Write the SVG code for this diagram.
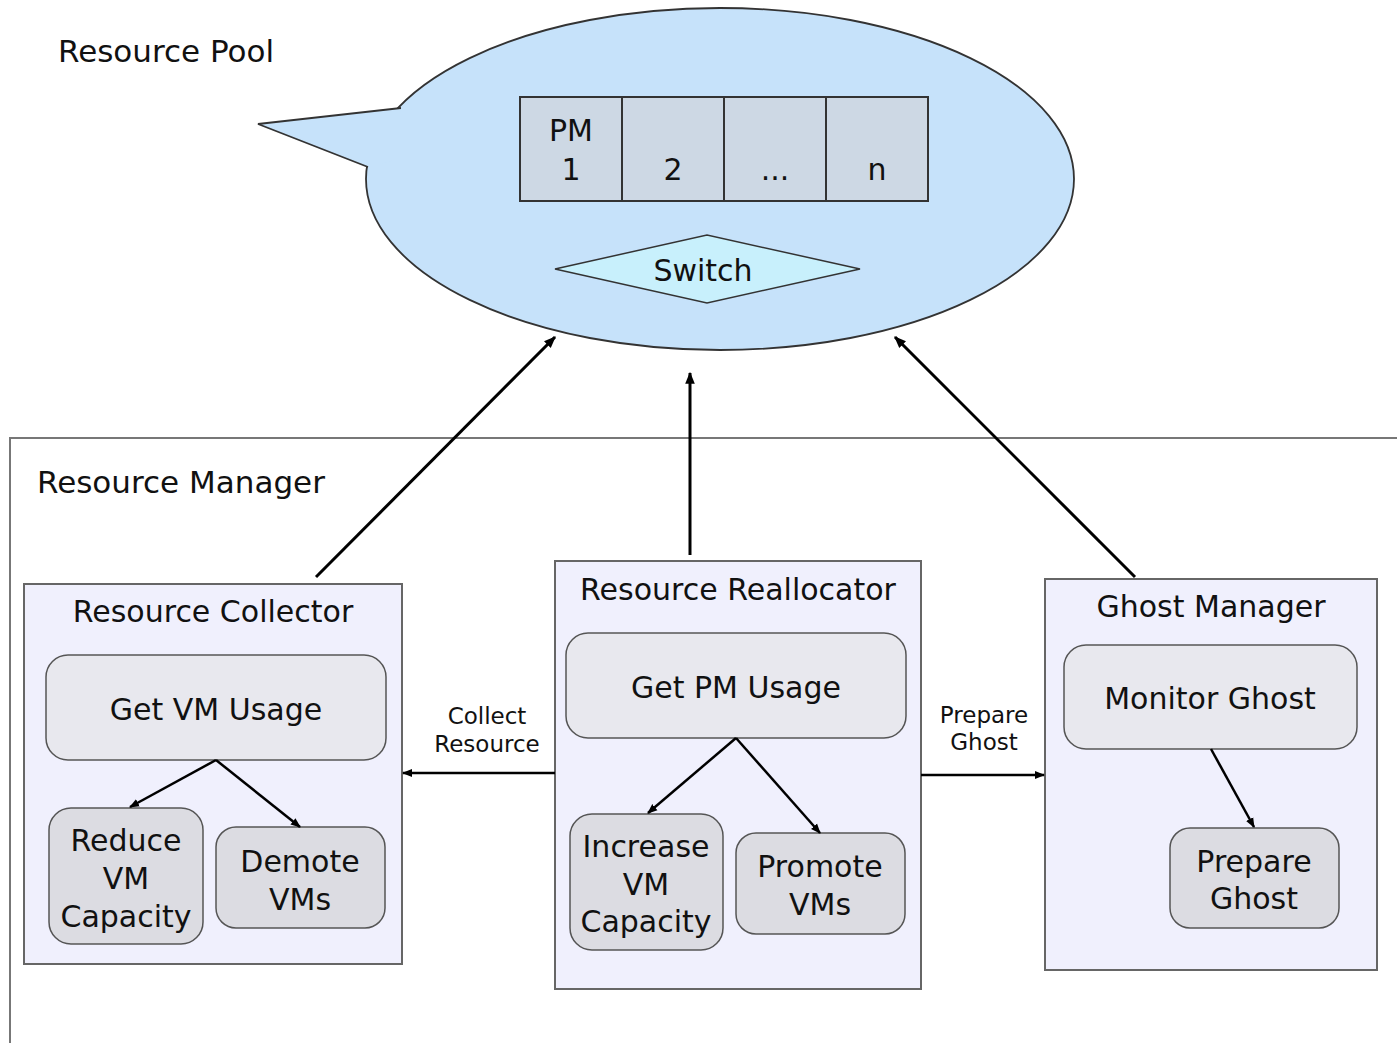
<svg xmlns="http://www.w3.org/2000/svg" width="1397" height="1043" viewBox="0 0 1397 1043">
<style>
text{font-family:"DejaVu Sans","Liberation Sans",sans-serif;fill:#111;text-anchor:middle}
.t30{font-size:30px}
.t31{font-size:31px;text-anchor:start}
.t24{font-size:23px}
.frame{fill:#f0f0fd;stroke:#666;stroke-width:2}
.sub{fill:#e8e8ee;stroke:#555;stroke-width:1.5}
.leaf{fill:#dcdce2;stroke:#555;stroke-width:1.5}
.pm{fill:#cdd8e4;stroke:#333;stroke-width:2}
.ar{stroke:#000;fill:none;stroke-width:3;marker-end:url(#ah)}
.ar2{stroke:#000;fill:none;stroke-width:2.5;marker-end:url(#ah)}
</style>
<defs>
<marker id="ah" viewBox="0 0 10 10" refX="9" refY="5" markerWidth="4" markerHeight="4" orient="auto" markerUnits="strokeWidth">
<path d="M0,1 L10,5 L0,9 z" fill="#000"/>
</marker>
</defs>
<rect width="1397" height="1043" fill="#fff"/>
<g id="resource-pool">
<ellipse cx="720" cy="179" rx="354" ry="171" fill="#c6e2fa" stroke="#333" stroke-width="1.8"/>
<path d="M401,108 L258,124 L368,167 L395,160 L420,110 Z" fill="#c6e2fa"/>
<path d="M401,108 L258,124 L368,167" fill="none" stroke="#333" stroke-width="1.8"/>
<text class="t31" x="58" y="62">Resource Pool</text>
</g>
<g id="pm-1"><rect class="pm" x="520" y="97" width="102" height="104"/><text class="t30" x="571" y="141">PM</text><text class="t30" x="571" y="180">1</text></g>
<g id="pm-2"><rect class="pm" x="622" y="97" width="102" height="104"/><text class="t30" x="673" y="180">2</text></g>
<g id="pm-dots"><rect class="pm" x="724" y="97" width="102" height="104"/><text class="t30" x="775" y="180">...</text></g>
<g id="pm-n"><rect class="pm" x="826" y="97" width="102" height="104"/><text class="t30" x="877" y="180">n</text></g>
<g id="switch"><polygon points="555,269 707,235 860,269 707,303" fill="#c8f0fc" stroke="#333" stroke-width="1.5"/><text class="t30" x="703" y="281">Switch</text></g>
<g id="resource-manager">
<path d="M10,1043 L10,438 L1397,438" fill="none" stroke="#777" stroke-width="2"/>
<text class="t31" x="37" y="493">Resource Manager</text>
</g>
<g id="resource-collector">
<rect class="frame" x="24" y="584" width="378" height="380"/>
<text class="t30" x="213" y="622">Resource Collector</text>
</g>
<g id="get-vm-usage"><rect class="sub" x="46" y="655" width="340" height="105" rx="22"/><text class="t30" x="216" y="720">Get VM Usage</text></g>
<g id="reduce-vm-capacity"><rect class="leaf" x="49" y="808" width="154" height="136" rx="22"/><text class="t30" x="126" y="851">Reduce</text><text class="t30" x="126" y="889">VM</text><text class="t30" x="126" y="927">Capacity</text></g>
<g id="demote-vms"><rect class="leaf" x="216" y="827" width="169" height="101" rx="20"/><text class="t30" x="300" y="872">Demote</text><text class="t30" x="300" y="910">VMs</text></g>
<g id="resource-reallocator">
<rect class="frame" x="555" y="561" width="366" height="428"/>
<text class="t30" x="738" y="600">Resource Reallocator</text>
</g>
<g id="get-pm-usage"><rect class="sub" x="566" y="633" width="340" height="105" rx="22"/><text class="t30" x="736" y="698">Get PM Usage</text></g>
<g id="increase-vm-capacity"><rect class="leaf" x="570" y="814" width="153" height="136" rx="22"/><text class="t30" x="646" y="857">Increase</text><text class="t30" x="646" y="895">VM</text><text class="t30" x="646" y="932">Capacity</text></g>
<g id="promote-vms"><rect class="leaf" x="736" y="833" width="169" height="101" rx="20"/><text class="t30" x="820" y="877">Promote</text><text class="t30" x="820" y="915">VMs</text></g>
<g id="ghost-manager">
<rect class="frame" x="1045" y="579" width="332" height="391"/>
<text class="t30" x="1211" y="617">Ghost Manager</text>
</g>
<g id="monitor-ghost"><rect class="sub" x="1064" y="645" width="293" height="104" rx="22"/><text class="t30" x="1210" y="709">Monitor Ghost</text></g>
<g id="prepare-ghost"><rect class="leaf" x="1170" y="828" width="169" height="100" rx="20"/><text class="t30" x="1254" y="872">Prepare</text><text class="t30" x="1254" y="909">Ghost</text></g>
<g id="connectors">
<line class="ar" x1="316" y1="577" x2="555" y2="337"/>
<line class="ar" x1="690" y1="555" x2="690" y2="373"/>
<line class="ar" x1="1135" y1="577" x2="895" y2="337"/>
<line class="ar2" x1="216" y1="760" x2="130" y2="807"/>
<line class="ar2" x1="216" y1="760" x2="300" y2="827"/>
<line class="ar2" x1="736" y1="738" x2="648" y2="813"/>
<line class="ar2" x1="736" y1="738" x2="820" y2="833"/>
<line class="ar2" x1="1211" y1="749" x2="1254" y2="827"/>
<line class="ar2" x1="555" y1="773" x2="403" y2="773"/>
<line class="ar2" x1="921" y1="775" x2="1044" y2="775"/>
<text class="t24" x="487" y="724">Collect</text>
<text class="t24" x="487" y="752">Resource</text>
<text class="t24" x="984" y="723">Prepare</text>
<text class="t24" x="984" y="750">Ghost</text>
</g>
</svg>
